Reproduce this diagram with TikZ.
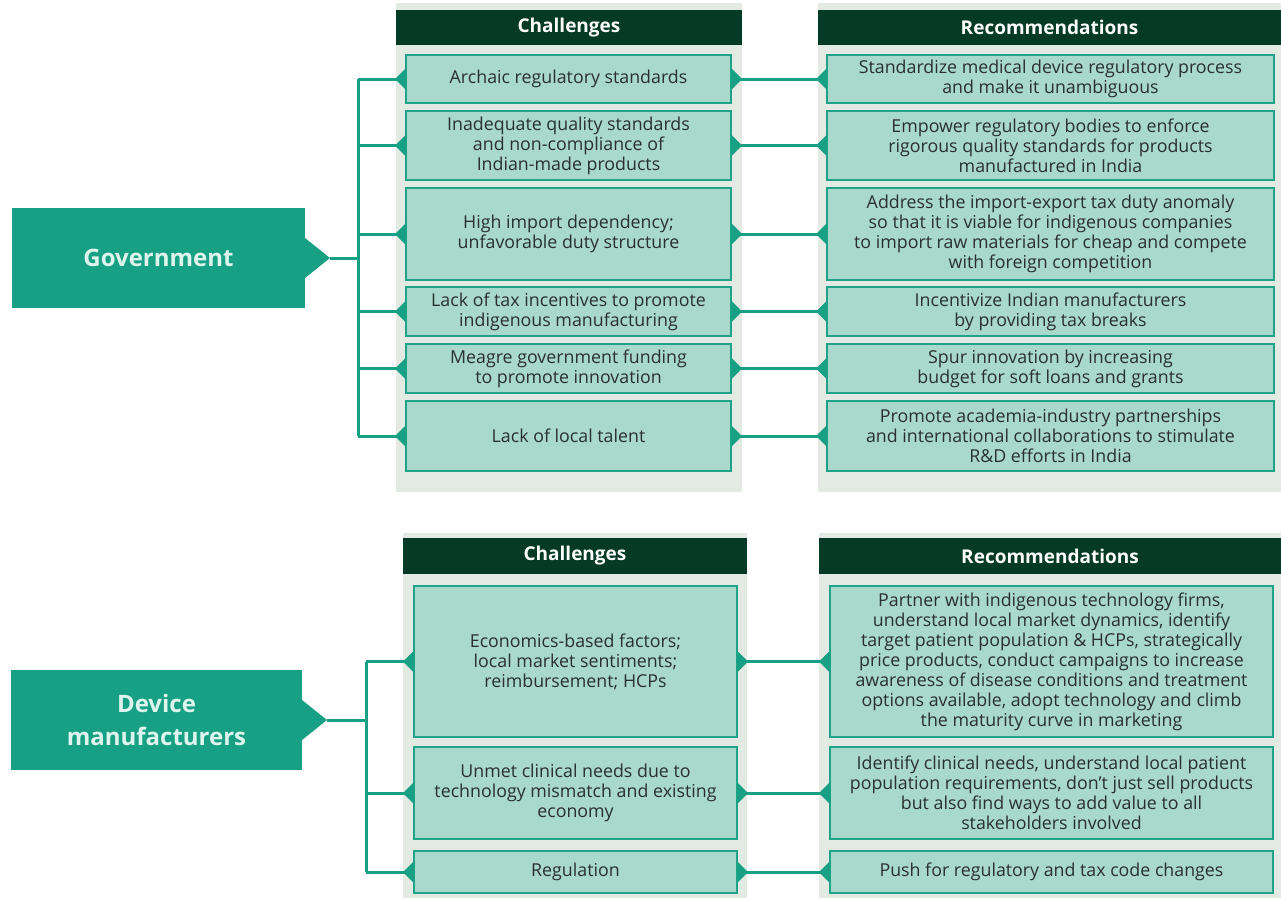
\documentclass[tikz,border=0pt]{standalone}
\usepackage{fontspec}
\setmainfont{Open Sans}
\definecolor{panelgray}{HTML}{E3E9E3}
\definecolor{darkgreen}{HTML}{053A26}
\definecolor{tealmain}{HTML}{17A083}
\definecolor{boxfill}{HTML}{A8D9CC}
\definecolor{boxedge}{HTML}{1FA386}
\definecolor{textdark}{HTML}{2A302E}
\definecolor{mint}{HTML}{DDF5EE}
\newcommand\nubL[1]{\fill[tealmain] ([yshift=-11pt]#1.west) -- ++(-11,-11) -- ++(11,-11) -- cycle;}
\newcommand\nubR[1]{\fill[tealmain] ([yshift=-11pt]#1.east) -- ++(11,-11) -- ++(-11,-11) -- cycle;}
\begin{document}
\begin{tikzpicture}[x=1pt,y=-1pt,
  panel/.style={fill=panelgray,draw=none},
  hdr/.style={fill=darkgreen,text=white,font=\bfseries\fontsize{19}{20}\selectfont,inner sep=0pt,outer sep=0pt},
  cbox/.style={draw=boxedge,line width=2pt,fill=boxfill,align=center,text=textdark,font=\fontsize{17.8}{20}\selectfont,inner sep=0pt,outer sep=0pt},
  govbox/.style={fill=tealmain,text=mint,align=center,font=\bfseries\fontsize{24}{33}\selectfont,inner sep=0pt,outer sep=0pt},
  conn/.style={draw=tealmain,line width=3pt}]
\useasboundingbox (0,0) rectangle (1281,898);
% ---------- Government section ----------
\fill[panel] (396,3) rectangle (742,492);
\fill[panel] (818,3) rectangle (1281,492);
\node[hdr,minimum width=346,minimum height=35] (gch) at (569,27.5) {Challenges};
\node[hdr,minimum width=463,minimum height=35] (grh) at (1049.5,27.5) {Recommendations};

\node[cbox,minimum width=325,minimum height=48] (c1) at (568.5,79) {Archaic regulatory standards};
\node[cbox,minimum width=325,minimum height=69] (c2) at (568.5,145.5) {Inadequate quality standards\\and non-compliance of\\Indian-made products};
\node[cbox,minimum width=325,minimum height=92] (c3) at (568.5,234) {High import dependency;\\unfavorable duty structure};
\node[cbox,minimum width=325,minimum height=49] (c4) at (568.5,311.5) {Lack of tax incentives to promote\\indigenous manufacturing};
\node[cbox,minimum width=325,minimum height=49] (c5) at (568.5,368.5) {Meagre government funding\\to promote innovation};
\node[cbox,minimum width=325,minimum height=70] (c6) at (568.5,436) {Lack of local talent};

\node[cbox,minimum width=447,minimum height=48] (r1) at (1050.5,79) {Standardize medical device regulatory process\\and make it unambiguous};
\node[cbox,minimum width=447,minimum height=69] (r2) at (1050.5,145.5) {Empower regulatory bodies to enforce\\rigorous quality standards for products\\manufactured in India};
\node[cbox,minimum width=447,minimum height=92] (r3) at (1050.5,234) {Address the import-export tax duty anomaly\\so that it is viable for indigenous companies\\to import raw materials for cheap and compete\\with foreign competition};
\node[cbox,minimum width=447,minimum height=49] (r4) at (1050.5,311.5) {Incentivize Indian manufacturers\\by providing tax breaks};
\node[cbox,minimum width=447,minimum height=49] (r5) at (1050.5,368.5) {Spur innovation by increasing\\budget for soft loans and grants};
\node[cbox,minimum width=447,minimum height=70] (r6) at (1050.5,436) {Promote academia-industry partnerships\\and international collaborations to stimulate\\R\&D efforts in India};

\node[govbox,minimum width=293,minimum height=100] (gov) at (158.5,258) {Government};
\fill[tealmain] ([yshift=-20pt]gov.east) -- ++(25,-20) -- ++(-25,-20) -- cycle;
\coordinate (gtip) at ([xshift=25pt]gov.east);
\coordinate (gtr) at (358,258);
\draw[conn] (gtip) -- (gtr);
\draw[conn] (c1.west -| gtr) -- (c6.west -| gtr);
\foreach \i in {1,...,6}{
  \draw[conn] (c\i.west) -- (c\i.west -| gtr);
  \draw[conn] (c\i.east) -- (r\i.west);
  \nubL{c\i}
  \nubR{c\i}
  \nubL{r\i}
}
% ---------- Device manufacturers section ----------
\fill[panel] (403,533) rectangle (747,898);
\fill[panel] (819,533) rectangle (1281,898);
\node[hdr,minimum width=344,minimum height=36] (dch) at (575,556) {Challenges};
\node[hdr,minimum width=462,minimum height=36] (drh) at (1050,556) {Recommendations};

\node[cbox,minimum width=323,minimum height=151] (d1) at (575.5,661.5) {Economics-based factors;\\local market sentiments;\\reimbursement; HCPs};
\node[cbox,minimum width=323,minimum height=92] (d2) at (575.5,793) {Unmet clinical needs due to\\technology mismatch and existing\\economy};
\node[cbox,minimum width=323,minimum height=42] (d3) at (575.5,872) {Regulation};

\node[cbox,minimum width=443,minimum height=151] (e1) at (1051.5,661.5) {Partner with indigenous technology firms,\\understand local market dynamics, identify\\target patient population \& HCPs, strategically\\price products, conduct campaigns to increase\\awareness of disease conditions and treatment\\options available, adopt technology and climb\\the maturity curve in marketing};
\node[cbox,minimum width=443,minimum height=92] (e2) at (1051.5,793) {Identify clinical needs, understand local patient\\population requirements, don't just sell products\\but also find ways to add value to all\\stakeholders involved};
\node[cbox,minimum width=443,minimum height=42] (e3) at (1051.5,872) {Push for regulatory and tax code changes};

\node[govbox,minimum width=291,minimum height=100] (dev) at (156.5,720) {Device\\manufacturers};
\fill[tealmain] ([yshift=-20pt]dev.east) -- ++(25,-20) -- ++(-25,-20) -- cycle;
\coordinate (dtip) at ([xshift=25pt]dev.east);
\coordinate (dtr) at (366,720);
\draw[conn] (dtip) -- (dtr);
\draw[conn] (d1.west -| dtr) -- (d3.west -| dtr);
\foreach \i in {1,2,3}{
  \draw[conn] (d\i.west) -- (d\i.west -| dtr);
  \draw[conn] (d\i.east) -- (e\i.west);
  \nubL{d\i}
  \nubR{d\i}
  \nubL{e\i}
}
\end{tikzpicture}
\end{document}
